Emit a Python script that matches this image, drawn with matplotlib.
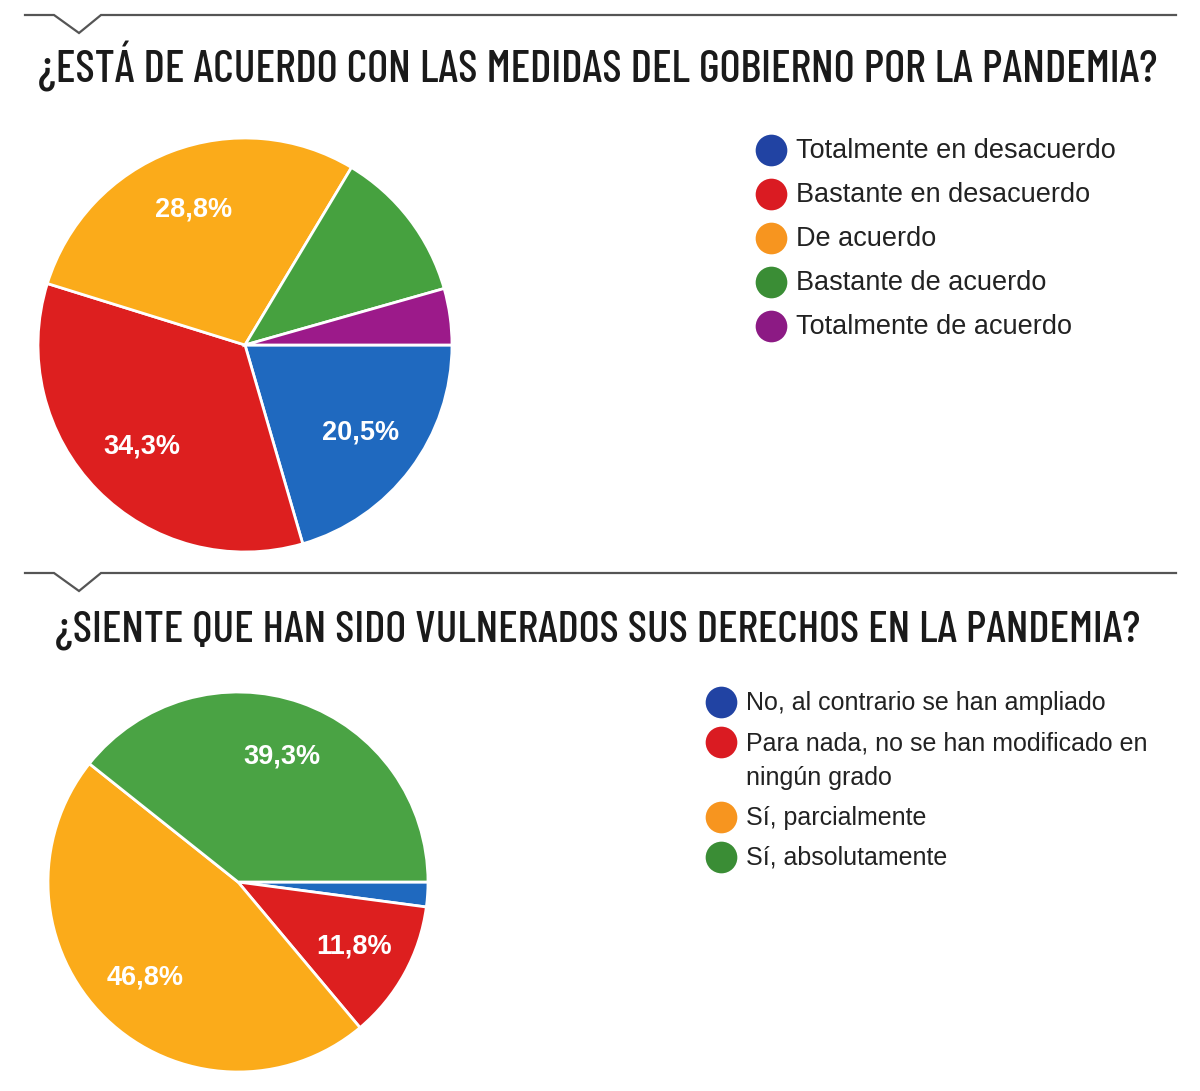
import numpy as np
import matplotlib.pyplot as plt

W, H = 1200, 1091

# top chart
q1_title = "¿ESTÁ DE ACUERDO CON LAS MEDIDAS DEL GOBIERNO POR LA PANDEMIA?"
q1_labels = ["Totalmente en desacuerdo", "Bastante en desacuerdo", "De acuerdo",
             "Bastante de acuerdo", "Totalmente de acuerdo"]
q1_values = [20.5, 34.3, 28.8, 12.0, 4.4]
q1_shown = ["20,5%", "34,3%", "28,8%", "", ""]
q1_colors = ["#1f69bf", "#dd1f1f", "#fbab1a", "#46a13f", "#9c1a8a"]
q1_legend_colors = ["#2143a3", "#da1b22", "#f7951f", "#3a8d35", "#8c1a84"]

# bottom chart
q2_title = "¿SIENTE QUE HAN SIDO VULNERADOS SUS DERECHOS EN LA PANDEMIA?"
q2_labels = ["No, al contrario se han ampliado",
             "Para nada, no se han modificado en\nningún grado",
             "Sí, parcialmente", "Sí, absolutamente"]
q2_values = [2.1, 11.8, 46.8, 39.3]
q2_shown = ["", "11,8%", "46,8%", "39,3%"]
q2_colors = ["#1f69bf", "#dd1f1f", "#fbab1a", "#4aa344"]
q2_legend_colors = ["#2143a3", "#da1b22", "#f7951f", "#3a8d35"]

narrow = ["Barlow Condensed", "Fira Sans Extra Condensed", "Roboto Condensed", "DejaVu Sans"]
sans = ["Liberation Sans", "DejaVu Sans"]

fig = plt.figure(figsize=(W / 100, H / 100), dpi=100)
bg = fig.add_axes([0, 0, 1, 1])
bg.set_xlim(0, W)
bg.set_ylim(H, 0)
bg.axis("off")


def header(y, title, x0, x1):
    # rule with a little chevron notch
    bg.plot([25, 54, 79, 101, 1176], [y, y, y + 18, y, y], color="#555555", lw=1.6,
            solid_joinstyle="miter")
    t = bg.text(x0, y + 68, title, family=narrow, fontsize=33, fontweight=500,
                va="baseline", ha="left", color="#1a1a1a")
    fig.canvas.draw()
    bb = t.get_window_extent()
    t.set_fontsize(33 * (x1 - x0) / bb.width)


def pie(box, values, colors, shown):
    l, t, s = box
    ax = fig.add_axes([l / W, 1 - (t + s) / H, s / W, s / H])
    wedges, _ = ax.pie(values, colors=colors, startangle=0, counterclock=False, radius=1,
                       wedgeprops=dict(edgecolor="white", linewidth=2))
    for w, lab in zip(wedges, shown):
        if not lab:
            continue
        ang = np.deg2rad((w.theta1 + w.theta2) / 2)
        ax.text(0.7 * np.cos(ang), 0.7 * np.sin(ang), lab, ha="center", va="center",
                color="white", fontsize=19.5, fontweight="bold", family=sans)
    ax.set_xlim(-1, 1)
    ax.set_ylim(-1, 1)
    ax.set_aspect("equal")
    ax.axis("off")


def legend(x, y0, labels, colors, step, wrap, fs):
    y = y0
    for lab, c in zip(labels, colors):
        bg.scatter([x], [y], s=520, color=c, zorder=3, linewidths=0)
        for i, line in enumerate(lab.split("\n")):
            bg.text(x + 25, y + 8 + i * wrap, line, va="baseline", ha="left", fontsize=fs,
                    color="#222222", family=sans)
        y += step + wrap * lab.count("\n")


header(15, q1_title, 38, 1160)
header(573, q2_title, 55, 1143)

pie((38, 138, 414), q1_values, q1_colors, q1_shown)
pie((48, 692, 380), q2_values, q2_colors, q2_shown)

legend(771, 150, q1_labels, q1_legend_colors, 44, 0, 19.5)
legend(721, 702, q2_labels, q2_legend_colors, 40, 35, 18)

fig.savefig("out.png", dpi=100, facecolor="white")
